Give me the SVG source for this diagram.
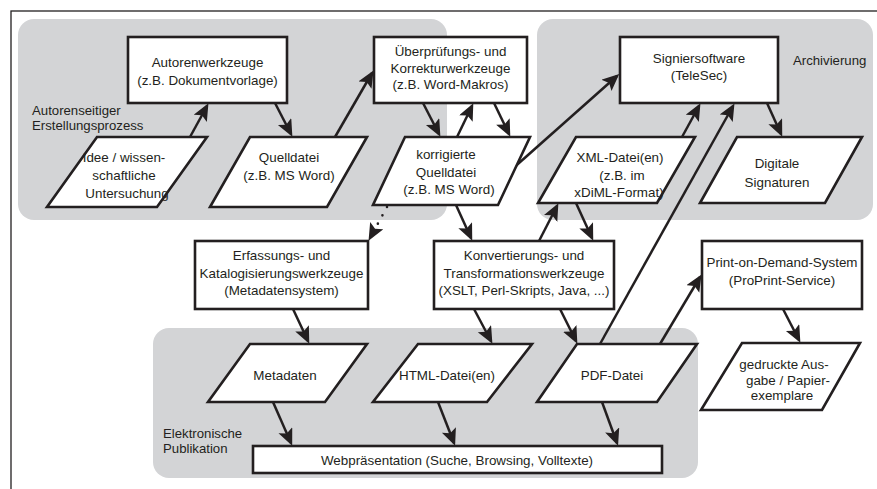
<svg xmlns="http://www.w3.org/2000/svg" width="877" height="489" viewBox="0 0 877 489">
<style>
text{font-family:"Liberation Sans",Arial,sans-serif;font-size:13.4px;fill:#231f20;text-anchor:middle}
.lbl{text-anchor:start;font-size:13.2px}
.box{fill:#fff;stroke:#231f20;stroke-width:2.6}
.area{fill:#d3d4d6}
.con{stroke:#231f20;stroke-width:2.5;fill:none;marker-end:url(#ah)}
.dot{stroke:#231f20;stroke-width:2.6;fill:none;stroke-dasharray:0 9.5;stroke-linecap:round;marker-end:url(#ah)}
</style>
<defs>
<marker id="ah" markerUnits="userSpaceOnUse" markerWidth="20" markerHeight="18" refX="14" refY="7.5" orient="auto" viewBox="0 0 20 18">
<path d="M0,0 L17,7.5 L0,15 L3.5,7.5 z" fill="#231f20"/>
</marker>
</defs>
<rect width="877" height="489" fill="#fff"/>
<rect x="11" y="11" width="900" height="500" fill="none" stroke="#231f20" stroke-width="1.3"/>
<g id="areas">
<rect class="area" x="18" y="19" width="429" height="201" rx="16"/>
<rect class="area" x="537" y="19" width="336" height="201" rx="16"/>
<rect class="area" x="153" y="328" width="545" height="150" rx="16"/>
<text class="lbl" x="32" y="115">Autorenseitiger</text>
<text class="lbl" x="32" y="130">Erstellungsprozess</text>
<text class="lbl" x="793" y="65">Archivierung</text>
<text class="lbl" x="163" y="438">Elektronische</text>
<text class="lbl" x="163" y="453">Publikation</text>
</g>
<g id="connectors">
<line class="con" x1="190" y1="137" x2="207" y2="106"/>
<line class="con" x1="275" y1="103" x2="291" y2="134"/>
<line class="con" x1="335" y1="137" x2="372" y2="73"/>
<line class="con" x1="423" y1="103" x2="439" y2="134"/>
<line class="con" x1="457" y1="137" x2="472" y2="106"/>
<line class="con" x1="494" y1="103" x2="509" y2="134"/>
<line class="con" x1="510" y1="171" x2="617" y2="76"/>
<line class="dot" x1="387" y1="207" x2="370" y2="238"/>
<line class="con" x1="456" y1="205" x2="471" y2="238"/>
<line class="con" x1="539" y1="241" x2="557" y2="206"/>
<line class="con" x1="576" y1="203" x2="592" y2="238"/>
<line class="con" x1="682" y1="137" x2="699" y2="106"/>
<line class="con" x1="767" y1="103" x2="781" y2="134"/>
<line class="con" x1="600" y1="344" x2="733" y2="106"/>
<line class="con" x1="660" y1="344" x2="700" y2="277"/>
<line class="con" x1="783" y1="309" x2="799" y2="340"/>
<line class="con" x1="293" y1="309" x2="308" y2="341"/>
<line class="con" x1="474" y1="309" x2="491" y2="341"/>
<line class="con" x1="560" y1="309" x2="576" y2="341"/>
<line class="con" x1="273" y1="402" x2="291" y2="443"/>
<line class="con" x1="438" y1="402" x2="454" y2="443"/>
<line class="con" x1="602" y1="402" x2="617" y2="443"/>
</g>
<g id="autorenwerkzeuge">
<rect class="box" x="128" y="37" width="159" height="66"/>
<text x="207.5" y="67">Autorenwerkzeuge</text>
<text x="207.5" y="85">(z.B. Dokumentvorlage)</text>
</g>
<g id="idee">
<polygon class="box" points="97,137 207,137 157,207 47,207"/>
<text x="124" y="162">Idee / wissen-</text>
<text x="124" y="180">schaftliche</text>
<text x="127" y="198">Untersuchung</text>
</g>
<g id="quelldatei">
<polygon class="box" points="250,137 367,137 327,207 210,207"/>
<text x="289" y="162">Quelldatei</text>
<text x="289" y="180">(z.B. MS Word)</text>
</g>
<g id="ueberpruefung">
<rect class="box" x="374" y="37" width="153" height="66"/>
<text x="450.5" y="56">Überprüfungs- und</text>
<text x="450.5" y="72.5">Korrekturwerkzeuge</text>
<text x="450.5" y="89">(z.B. Word-Makros)</text>
</g>
<g id="korrigierte">
<polygon class="box" points="405,137 530,137 498,205 373,205"/>
<text x="446" y="159">korrigierte</text>
<text x="446" y="177">Quelldatei</text>
<text x="449" y="194">(z.B. MS Word)</text>
</g>
<g id="signiersoftware">
<rect class="box" x="620" y="37" width="158" height="66"/>
<text x="699" y="63">Signiersoftware</text>
<text x="699" y="80">(TeleSec)</text>
</g>
<g id="xml">
<polygon class="box" points="576,137 695,137 657,203 538,203"/>
<text x="620" y="162">XML-Datei(en)</text>
<text x="622" y="180">(z.B. im</text>
<text x="619" y="197">xDiML-Format)</text>
</g>
<g id="signaturen">
<polygon class="box" points="737,137 862,137 825,203 700,203"/>
<text x="777" y="168">Digitale</text>
<text x="777" y="187">Signaturen</text>
</g>
<g id="erfassung">
<rect class="box" x="195" y="241" width="173" height="68"/>
<text x="281.5" y="260">Erfassungs- und</text>
<text x="281.5" y="278">Katalogisierungswerkzeuge</text>
<text x="281.5" y="294.5">(Metadatensystem)</text>
</g>
<g id="konvertierung">
<rect class="box" x="434" y="241" width="180" height="68"/>
<text x="524" y="260">Konvertierungs- und</text>
<text x="524" y="278">Transformationswerkzeuge</text>
<text x="524" y="295">(XSLT, Perl-Skripts, Java, ...)</text>
</g>
<g id="printondemand">
<rect class="box" x="702" y="241" width="160" height="68"/>
<text x="782" y="267">Print-on-Demand-System</text>
<text x="782" y="285">(ProPrint-Service)</text>
</g>
<g id="gedruckte">
<polygon class="box" points="742,343 860,343 822,410 701,410"/>
<text x="784" y="369">gedruckte Aus-</text>
<text x="788" y="385">gabe / Papier-</text>
<text x="782" y="400">exemplare</text>
</g>
<g id="metadaten">
<polygon class="box" points="250,344 367,344 325,402 208,402"/>
<text x="285" y="380">Metadaten</text>
</g>
<g id="html">
<polygon class="box" points="418,344 532,344 487,402 373,402"/>
<text x="447" y="380">HTML-Datei(en)</text>
</g>
<g id="pdf">
<polygon class="box" points="577,344 697,344 657,402 537,402"/>
<text x="612" y="380">PDF-Datei</text>
</g>
<g id="webpraesentation">
<rect class="box" x="253" y="446" width="409" height="27"/>
<text x="457" y="464.5">Webpräsentation (Suche, Browsing, Volltexte)</text>
</g>
</svg>
